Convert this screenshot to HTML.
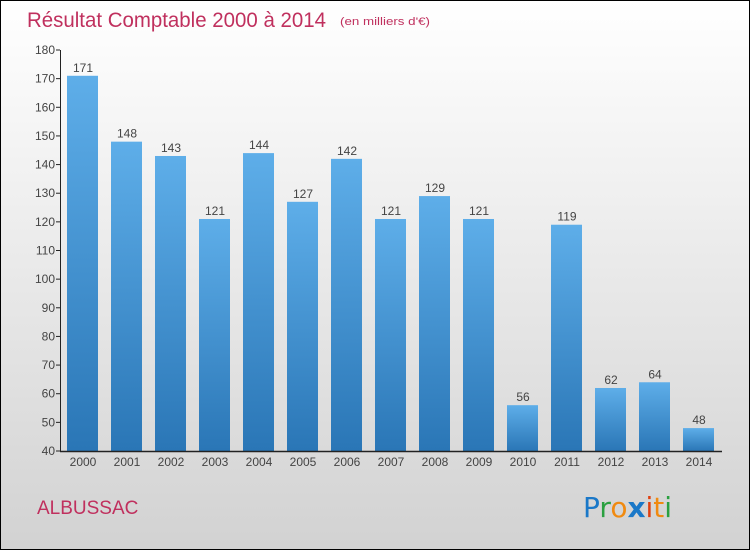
<!DOCTYPE html>
<html><head><meta charset="utf-8"><style>
body{margin:0}
#c{position:relative;width:748px;height:548px;border:1px solid #000;background:linear-gradient(#ffffff,#f2f2f2 30%,#d2d2d2);font-family:"Liberation Sans",sans-serif;overflow:hidden}
</style></head><body>
<div id="c">
<svg width="748" height="548" font-family="Liberation Sans,sans-serif">
<defs><linearGradient id="bg" x1="0" y1="0" x2="0" y2="1"><stop offset="0" stop-color="#5eaee9"/><stop offset="1" stop-color="#2a76b6"/></linearGradient></defs>
<text x="26" y="26" font-size="21" fill="#c0305e" textLength="299" lengthAdjust="spacingAndGlyphs">Résultat Comptable 2000 à 2014</text>
<text x="339" y="24" font-size="11" fill="#c0305e" textLength="90" lengthAdjust="spacingAndGlyphs">(en milliers d'€)</text>
<g id="plot"></g>
<text x="36" y="513" font-size="19" fill="#c0305e">ALBUSSAC</text>
<g font-size="28" font-family="DejaVu Sans,sans-serif">
<text x="582" y="516"><tspan fill="#1a78c8">P</tspan><tspan fill="#2aa040">r</tspan><tspan fill="#f08a10">o</tspan><tspan fill="#1a78c8" font-weight="bold">x</tspan><tspan fill="#e04010">i</tspan><tspan fill="#f08a10">t</tspan><tspan fill="#2aa040">i</tspan></text>
</g>
</svg>
</div>
<script>
const years=["2000","2001","2002","2003","2004","2005","2006","2007","2008","2009","2010","2011","2012","2013","2014"];
const values=[171,148,143,121,144,127,142,121,129,121,56,119,62,64,48];
const yTicks=[40,50,60,70,80,90,100,110,120,130,140,150,160,170,180];
const NS="http://www.w3.org/2000/svg";
const g=document.getElementById('plot');
const y0=450,y1=49,vmin=40,vmax=180;
const yS=v=>y0-(v-vmin)/(vmax-vmin)*(y0-y1);
const xS=i=>81+i*44;
function mk(t,a,p){const e=document.createElementNS(NS,t);for(const k in a)e.setAttribute(k,a[k]);(p||g).appendChild(e);return e;}
yTicks.forEach(v=>{
 const t=mk('line',{x1:55,x2:59,y1:yS(v),y2:yS(v),stroke:'#222'});
 
 
 const l=mk('text',{x:54,y:yS(v)+4,'text-anchor':'end','font-size':12,fill:'#444'});
 l.textContent=v;
 
 
});
values.forEach((v,i)=>{
 const r=mk('rect',{x:xS(i)-15,y:yS(v),width:31,height:y0-yS(v),fill:'url(#bg)'});
 
 
 const t=mk('text',{x:xS(i)+1,y:yS(v)-4,'text-anchor':'middle','font-size':12,fill:'#444'});
 t.textContent=v;
 
 
 const x=mk('text',{x:xS(i)+1,y:y0+15,'text-anchor':'middle','font-size':12,fill:'#444'});
 x.textContent=years[i];
 
 
});
const ya=mk('line',{x1:59.5,x2:59.5,y1:y1,y2:y0,stroke:'#222'});


const xa=mk('line',{x1:59,x2:721,y1:y0+0.5,y2:y0+0.5,stroke:'#222','stroke-width':1.5});


</script>
</body></html>
